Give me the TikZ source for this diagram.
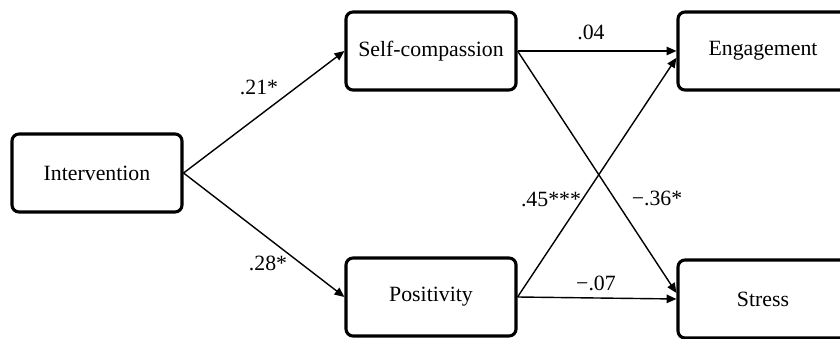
\documentclass[tikz,border=0pt]{standalone}
\usepackage{fontspec}
\setmainfont{Liberation Serif}
\usetikzlibrary{arrows.meta}
\tikzset{
  var box/.style={draw, line width=2.2pt, rounded corners=5pt, minimum width=4.25cm, minimum height=1.95cm, inner sep=0pt},
  path arrow/.style={-{Triangle[length=7pt,width=6pt]}, line width=1pt},
  coef/.style={inner sep=1pt},
}

\begin{document}
\begin{tikzpicture}[x=0.025cm, y=-0.025cm, every node/.style={font=\fontsize{15.5}{18}\selectfont}]
  \useasboundingbox (0,0) rectangle (840,339);
  \clip (0,0) rectangle (840,339);
  \node[var box] (int) at (97,173)  {Intervention};
  \node[var box] (sc)  at (431,51)  {Self-compassion};
  \node[var box] (pos) at (431,297) {Positivity};
  \node[var box] (eng) at (763,51)  {Engagement};
  \node[var box] (st)  at (763,299) {Stress};
  \draw[path arrow] (int.east) -- (sc.west);
  \draw[path arrow] (int.east) -- (pos.west);
  \draw[path arrow] (sc.east) -- (eng.west);
  \draw[path arrow] (sc.east) -- ([yshift=0.15cm]st.west);
  \draw[path arrow] (pos.east) -- ([yshift=-0.17cm]eng.west);
  \draw[path arrow] (pos.east) -- (st.west);
  \node[coef] (c1) at (259,87)  {.21*};
  \node[coef] (c2) at (268,263) {.28*};
  \node[coef] (c3) at (591,32)  {.04};
  \node[coef] (c4) at (551,199) {.45***};
  \node[coef] (c5) at (657,198) {−.36*};
  \node[coef] (c6) at (596,283) {−.07};
\end{tikzpicture}
\end{document}
